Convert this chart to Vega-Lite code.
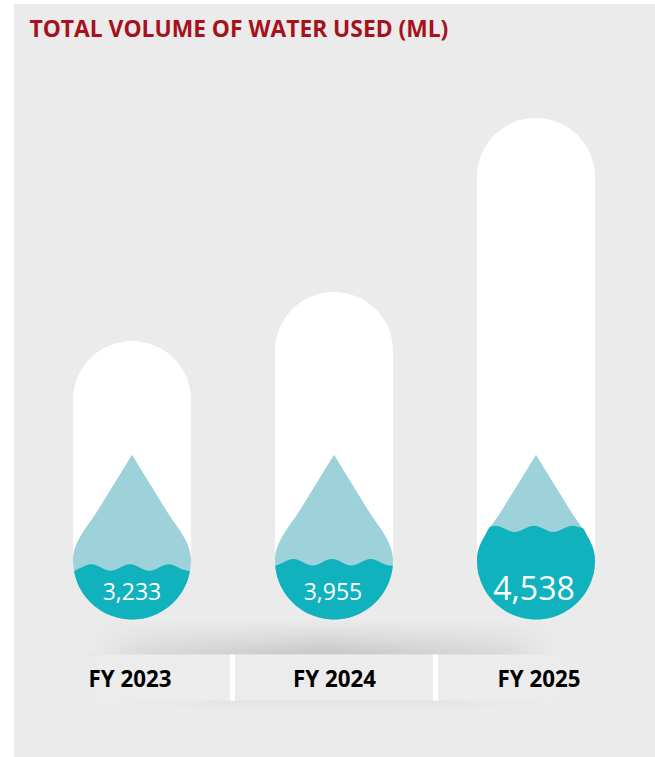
{
  "$schema": "https://vega.github.io/schema/vega-lite/v6.json",
  "autosize": {"type": "none"},
  "width": 641,
  "height": 753,
  "padding": {"left": 14, "top": 4, "right": 0, "bottom": 0},
  "background": "#ffffff",
  "view": {"fill": "#ebebeb", "stroke": null},
  "title": {
    "text": "TOTAL VOLUME OF WATER USED (ML)",
    "anchor": "start",
    "frame": "group",
    "offset": 0,
    "dx": 15.5,
    "dy": 56,
    "baseline": "alphabetic",
    "font": "Open Sans",
    "fontWeight": "bold",
    "fontSize": 22.8,
    "color": "#a6121c"
  },
  "datasets": {
    "years": [
      {"fy": "FY 2023", "value": 3233},
      {"fy": "FY 2024", "value": 3955},
      {"fy": "FY 2025", "value": 4538}
    ],
    "floorShadow": [{"fy": "FY 2024", "across": -10, "top": 0, "base": -35}],
    "underShadow": [{"fy": "FY 2024", "across": 1, "top": -81, "base": -92}],
    "strip": [{"fy": "FY 2024", "across": -7, "top": -35, "base": -81}],
    "dividers": [
      {"fy": "FY 2023", "across": 100.5, "top": -35, "base": -81},
      {"fy": "FY 2024", "across": 101.5, "top": -35, "base": -81}
    ],
    "water": [
      {"fy": "FY 2023", "along": -58, "surface": 3000, "floor": 2997},
      {"fy": "FY 2023", "along": -55.2, "surface": 3092, "floor": 2375},
      {"fy": "FY 2023", "along": -50.4, "surface": 3233, "floor": 1759},
      {"fy": "FY 2023", "along": -45.5, "surface": 3547, "floor": 1330},
      {"fy": "FY 2023", "along": -40.7, "surface": 3677, "floor": 1013},
      {"fy": "FY 2023", "along": -35.9, "surface": 3547, "floor": 758},
      {"fy": "FY 2023", "along": -31, "surface": 3233, "floor": 547},
      {"fy": "FY 2023", "along": -26.1, "surface": 3092, "floor": 379},
      {"fy": "FY 2023", "along": -21.3, "surface": 3034, "floor": 249},
      {"fy": "FY 2023", "along": -16.5, "surface": 3092, "floor": 149},
      {"fy": "FY 2023", "along": -11.7, "surface": 3233, "floor": 75},
      {"fy": "FY 2023", "along": -6.8, "surface": 3547, "floor": 25},
      {"fy": "FY 2023", "along": -2, "surface": 3677, "floor": 0},
      {"fy": "FY 2023", "along": 2.8, "surface": 3547, "floor": 6},
      {"fy": "FY 2023", "along": 7.7, "surface": 3233, "floor": 31},
      {"fy": "FY 2023", "along": 12.5, "surface": 3092, "floor": 81},
      {"fy": "FY 2023", "along": 17.3, "surface": 3034, "floor": 162},
      {"fy": "FY 2023", "along": 22.1, "surface": 3092, "floor": 267},
      {"fy": "FY 2023", "along": 27, "surface": 3233, "floor": 404},
      {"fy": "FY 2023", "along": 31.9, "surface": 3547, "floor": 584},
      {"fy": "FY 2023", "along": 36.7, "surface": 3677, "floor": 796},
      {"fy": "FY 2023", "along": 41.5, "surface": 3547, "floor": 1063},
      {"fy": "FY 2023", "along": 46.4, "surface": 3233, "floor": 1405},
      {"fy": "FY 2023", "along": 51.2, "surface": 3092, "floor": 1846},
      {"fy": "FY 2023", "along": 56, "surface": 3034, "floor": 2512},
      {"fy": "FY 2023", "along": 58, "surface": 3000, "floor": 2997},

      {"fy": "FY 2024", "along": 143.2, "surface": 3525, "floor": 3525},
      {"fy": "FY 2024", "along": 144, "surface": 3511, "floor": 2997},
      {"fy": "FY 2024", "along": 146.8, "surface": 3641, "floor": 2375},
      {"fy": "FY 2024", "along": 151.6, "surface": 3955, "floor": 1759},
      {"fy": "FY 2024", "along": 156.5, "surface": 3994, "floor": 1330},
      {"fy": "FY 2024", "along": 161.3, "surface": 4011, "floor": 1013},
      {"fy": "FY 2024", "along": 166.1, "surface": 3994, "floor": 758},
      {"fy": "FY 2024", "along": 171, "surface": 3955, "floor": 547},
      {"fy": "FY 2024", "along": 175.9, "surface": 3641, "floor": 379},
      {"fy": "FY 2024", "along": 180.7, "surface": 3511, "floor": 249},
      {"fy": "FY 2024", "along": 185.5, "surface": 3641, "floor": 149},
      {"fy": "FY 2024", "along": 190.3, "surface": 3955, "floor": 75},
      {"fy": "FY 2024", "along": 195.2, "surface": 3994, "floor": 25},
      {"fy": "FY 2024", "along": 200, "surface": 4011, "floor": 0},
      {"fy": "FY 2024", "along": 204.8, "surface": 3994, "floor": 6},
      {"fy": "FY 2024", "along": 209.7, "surface": 3955, "floor": 31},
      {"fy": "FY 2024", "along": 214.5, "surface": 3641, "floor": 81},
      {"fy": "FY 2024", "along": 219.3, "surface": 3511, "floor": 162},
      {"fy": "FY 2024", "along": 224.1, "surface": 3641, "floor": 267},
      {"fy": "FY 2024", "along": 229, "surface": 3955, "floor": 404},
      {"fy": "FY 2024", "along": 233.9, "surface": 3994, "floor": 584},
      {"fy": "FY 2024", "along": 238.7, "surface": 4011, "floor": 796},
      {"fy": "FY 2024", "along": 243.5, "surface": 3994, "floor": 1063},
      {"fy": "FY 2024", "along": 248.4, "surface": 3955, "floor": 1405},
      {"fy": "FY 2024", "along": 253.2, "surface": 3641, "floor": 1846},
      {"fy": "FY 2024", "along": 258, "surface": 3511, "floor": 2512},
      {"fy": "FY 2024", "along": 260, "surface": 3511, "floor": 2997},
      {"fy": "FY 2024", "along": 260.8, "surface": 3525, "floor": 3525},

      {"fy": "FY 2025", "along": 345, "surface": 3986, "floor": 3986},
      {"fy": "FY 2025", "along": 345.4, "surface": 4082, "floor": 3247},
      {"fy": "FY 2025", "along": 347.4, "surface": 4220, "floor": 2636},
      {"fy": "FY 2025", "along": 350.2, "surface": 4335, "floor": 2163},
      {"fy": "FY 2025", "along": 353.6, "surface": 4440, "floor": 1759},
      {"fy": "FY 2025", "along": 357, "surface": 4555, "floor": 1449},
      {"fy": "FY 2025", "along": 358.5, "surface": 4577, "floor": 1330},
      {"fy": "FY 2025", "along": 363.3, "surface": 4594, "floor": 1013},
      {"fy": "FY 2025", "along": 368.1, "surface": 4577, "floor": 758},
      {"fy": "FY 2025", "along": 373, "surface": 4538, "floor": 547},
      {"fy": "FY 2025", "along": 377.9, "surface": 4499, "floor": 379},
      {"fy": "FY 2025", "along": 382.7, "surface": 4482, "floor": 249},
      {"fy": "FY 2025", "along": 387.5, "surface": 4499, "floor": 149},
      {"fy": "FY 2025", "along": 392.3, "surface": 4538, "floor": 75},
      {"fy": "FY 2025", "along": 397.2, "surface": 4577, "floor": 25},
      {"fy": "FY 2025", "along": 402, "surface": 4594, "floor": 0},
      {"fy": "FY 2025", "along": 406.8, "surface": 4577, "floor": 6},
      {"fy": "FY 2025", "along": 411.7, "surface": 4538, "floor": 31},
      {"fy": "FY 2025", "along": 416.5, "surface": 4499, "floor": 81},
      {"fy": "FY 2025", "along": 421.3, "surface": 4482, "floor": 162},
      {"fy": "FY 2025", "along": 426.1, "surface": 4499, "floor": 267},
      {"fy": "FY 2025", "along": 431, "surface": 4538, "floor": 404},
      {"fy": "FY 2025", "along": 435.9, "surface": 4577, "floor": 584},
      {"fy": "FY 2025", "along": 440.7, "surface": 4594, "floor": 796},
      {"fy": "FY 2025", "along": 445.5, "surface": 4577, "floor": 1063},
      {"fy": "FY 2025", "along": 450.4, "surface": 4555, "floor": 1405},
      {"fy": "FY 2025", "along": 451, "surface": 4550, "floor": 1449},
      {"fy": "FY 2025", "along": 454.4, "surface": 4440, "floor": 1759},
      {"fy": "FY 2025", "along": 457.8, "surface": 4335, "floor": 2163},
      {"fy": "FY 2025", "along": 460.6, "surface": 4220, "floor": 2636},
      {"fy": "FY 2025", "along": 462.6, "surface": 4082, "floor": 3247},
      {"fy": "FY 2025", "along": 463, "surface": 3986, "floor": 3986}
    ]
  },
  "encoding": {
    "x": {
      "field": "fy",
      "type": "nominal",
      "scale": {"type": "point", "domain": ["FY 2023", "FY 2024", "FY 2025"], "range": [118, 522], "padding": 0},
      "axis": null
    }
  },
  "layer": [
    {
      "name": "floor shadow",
      "data": {"name": "floorShadow"},
      "mark": {
        "type": "bar",
        "width": 470,
        "fill": {
          "gradient": "linear", "x1": 0, "y1": 0, "x2": 0, "y2": 1,
          "stops": [
            {"offset": 0, "color": "#ebebeb"},
            {"offset": 0.5, "color": "#dadada"},
            {"offset": 1, "color": "#c6c6c6"}
          ]
        }
      },
      "encoding": {
        "xOffset": {"field": "across", "type": "quantitative", "scale": {"domain": [-59, 59], "range": [-59, 59]}},
        "y": {"field": "top", "type": "quantitative", "scale": {"domain": [-137.5, 615.5], "range": [753, 0]}, "axis": null},
        "y2": {"field": "base"}
      }
    },
    {
      "name": "fade at the ends of the floor shadow",
      "data": {"name": "floorShadow"},
      "mark": {
        "type": "bar",
        "width": 470,
        "fill": {
          "gradient": "linear", "x1": 0, "y1": 0, "x2": 1, "y2": 0,
          "stops": [
            {"offset": 0, "color": "rgba(235,235,235,1)"},
            {"offset": 0.12, "color": "rgba(235,235,235,0.5)"},
            {"offset": 0.5, "color": "rgba(235,235,235,0)"},
            {"offset": 0.88, "color": "rgba(235,235,235,0.5)"},
            {"offset": 1, "color": "rgba(235,235,235,1)"}
          ]
        }
      },
      "encoding": {
        "xOffset": {"field": "across", "type": "quantitative", "scale": {"domain": [-59, 59], "range": [-59, 59]}},
        "y": {"field": "top", "type": "quantitative", "scale": {"domain": [-137.5, 615.5], "range": [753, 0]}, "axis": null},
        "y2": {"field": "base"}
      }
    },
    {
      "name": "shadow below the strip",
      "data": {"name": "underShadow"},
      "mark": {
        "type": "bar",
        "width": 420,
        "fill": {
          "gradient": "linear", "x1": 0, "y1": 0, "x2": 0, "y2": 1,
          "stops": [
            {"offset": 0, "color": "#e3e3e3"},
            {"offset": 1, "color": "#ebebeb"}
          ]
        }
      },
      "encoding": {
        "xOffset": {"field": "across", "type": "quantitative", "scale": {"domain": [-59, 59], "range": [-59, 59]}},
        "y": {"field": "top", "type": "quantitative", "scale": {"domain": [-137.5, 615.5], "range": [753, 0]}, "axis": null},
        "y2": {"field": "base"}
      }
    },
    {
      "name": "fade at the ends of the lower shadow",
      "data": {"name": "underShadow"},
      "mark": {
        "type": "bar",
        "width": 420,
        "fill": {
          "gradient": "linear", "x1": 0, "y1": 0, "x2": 1, "y2": 0,
          "stops": [
            {"offset": 0, "color": "rgba(235,235,235,1)"},
            {"offset": 0.3, "color": "rgba(235,235,235,0)"},
            {"offset": 0.7, "color": "rgba(235,235,235,0)"},
            {"offset": 1, "color": "rgba(235,235,235,1)"}
          ]
        }
      },
      "encoding": {
        "xOffset": {"field": "across", "type": "quantitative", "scale": {"domain": [-59, 59], "range": [-59, 59]}},
        "y": {"field": "top", "type": "quantitative", "scale": {"domain": [-137.5, 615.5], "range": [753, 0]}, "axis": null},
        "y2": {"field": "base"}
      }
    },
    {
      "name": "label strip carrying the year axis",
      "data": {"name": "strip"},
      "mark": {"type": "bar", "width": 465, "fill": "#ececec"},
      "encoding": {
        "x": {
          "field": "fy",
          "type": "nominal",
          "scale": {"type": "point", "domain": ["FY 2023", "FY 2024", "FY 2025"], "range": [115.5, 524.5], "padding": 0},
          "axis": {
            "title": null,
            "orient": "bottom",
            "offset": -71,
            "domain": false,
            "ticks": false,
            "labelAngle": 0,
            "labelPadding": 0,
            "labelBaseline": "alphabetic",
            "labelFont": "Open Sans",
            "labelFontWeight": "bold",
            "labelFontSize": 22.3,
            "labelColor": "#000000",
            "zindex": 1
          }
        },
        "xOffset": {"field": "across", "type": "quantitative", "scale": {"domain": [-59, 59], "range": [-59, 59]}},
        "y": {"field": "top", "type": "quantitative", "scale": {"domain": [-137.5, 615.5], "range": [753, 0]}, "axis": null},
        "y2": {"field": "base"}
      }
    },
    {
      "name": "white dividers",
      "data": {"name": "dividers"},
      "mark": {"type": "bar", "width": 5, "fill": "#ffffff"},
      "encoding": {
        "xOffset": {"field": "across", "type": "quantitative", "scale": {"domain": [-59, 59], "range": [-59, 59]}},
        "y": {"field": "top", "type": "quantitative", "scale": {"domain": [-137.5, 615.5], "range": [753, 0]}, "axis": null},
        "y2": {"field": "base"}
      }
    },
    {
      "name": "white tubes",
      "data": {"name": "years"},
      "mark": {"type": "bar", "width": 118, "cornerRadius": 59, "fill": "#ffffff"},
      "encoding": {
        "y": {
          "field": "value",
          "type": "quantitative",
          "scale": {"domain": [0, 3233, 3955, 4538], "range": [615.5, 337, 288, 114]},
          "axis": null
        }
      }
    },
    {
      "name": "pale drops",
      "data": {"name": "years"},
      "mark": {
        "type": "point",
        "filled": true,
        "opacity": 1,
        "size": 13924,
        "fill": "#9dd2da",
        "shape": "M0,-2.793 L0.56,-1.88 C0.76,-1.56 1,-1.32 1,-1 A1,1,0,0,1,-1,-1 C-1,-1.32 -0.76,-1.56 -0.56,-1.88 Z"
      },
      "encoding": {
        "y": {
          "datum": 0,
          "type": "quantitative",
          "scale": {"domain": [0, 3233, 3955, 4538, 5000], "range": [615.5, 563.5, 558.3, 524.85, 498.5]},
          "axis": null
        }
      }
    },
    {
      "name": "water inside each drop",
      "data": {"name": "water"},
      "mark": {"type": "area", "interpolate": "monotone", "fill": "#10b2be"},
      "encoding": {
        "x": {"field": "along", "type": "quantitative", "scale": {"domain": [-118, 523], "range": [0, 641]}, "axis": null},
        "y": {
          "field": "surface",
          "type": "quantitative",
          "scale": {"domain": [0, 3233, 3955, 4538, 5000], "range": [615.5, 563.5, 558.3, 524.85, 498.5]},
          "axis": null
        },
        "y2": {"field": "floor"},
        "detail": {"field": "fy"}
      }
    },
    {
      "name": "volume labels",
      "data": {"name": "years"},
      "mark": {"type": "text", "font": "Open Sans", "fontWeight": 400, "fill": "#ffffff", "align": "center", "baseline": "alphabetic"},
      "encoding": {
        "x": {
          "field": "fy",
          "type": "nominal",
          "scale": {"type": "point", "domain": ["FY 2023", "FY 2024", "FY 2025"], "range": [118, 520], "padding": 0},
          "axis": null
        },
        "y": {
          "datum": 1212,
          "type": "quantitative",
          "scale": {"domain": [0, 3233, 3955, 4538, 5000], "range": [615.5, 563.5, 558.3, 524.85, 498.5]},
          "axis": null
        },
        "text": {"field": "value", "type": "quantitative", "format": ","},
        "size": {
          "field": "value",
          "type": "quantitative",
          "scale": {"domain": [3233, 3955, 4538], "range": [23, 23, 32]},
          "legend": null
        }
      }
    }
  ],
  "resolve": {"scale": {"x": "independent", "y": "independent"}}
}
